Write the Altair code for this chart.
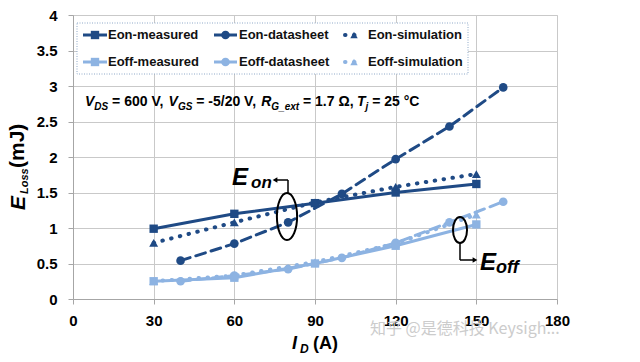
import altair as alt
import pandas as pd

# ---------------- data ----------------
x_meas = [30, 60, 90, 120, 150]
x_ds = [40, 60, 80, 100, 120, 140, 160]
eon_measured = [0.99, 1.20, 1.35, 1.50, 1.62]
eon_simulation = [0.79, 1.08, 1.36, 1.58, 1.76]
eon_datasheet = [0.54, 0.78, 1.08, 1.48, 1.97, 2.43, 2.98]
eoff_measured = [0.25, 0.30, 0.50, 0.75, 1.05]
eoff_simulation = [0.25, 0.33, 0.52, 0.78, 1.19]
eoff_datasheet = [0.25, 0.33, 0.42, 0.58, 0.79, 1.08, 1.37]

series_names = ["Eon-measured", "Eon-datasheet", "Eon-simulation",
                "Eoff-measured", "Eoff-datasheet", "Eoff-simulation"]
x_ticks = [0, 30, 60, 90, 120, 150, 180]
y_ticks = [0, 0.5, 1, 1.5, 2, 2.5, 3, 3.5, 4]

condition_parts = [("V", "main"), ("DS", "sub"), (" = 600 V, ", "plain"),
                   ("V", "main"), ("GS", "sub"), (" = -5/20 V, ", "plain"),
                   ("R", "main"), ("G_ext", "sub"), (" = 1.7 Ω, ", "plain"),
                   ("T", "main"), ("j", "sub"), (" = 25 °C", "plain")]
watermark = "知乎 @是德科技 Keysigh..."

# ---------------- styles ----------------
FONT = "Liberation Sans, Arial, Helvetica, sans-serif"
DARK = "#1F4A85"
LIGHT = "#8DB3E2"
DASHED = [10, 6]
DOTTED = [0.5, 8.5]

styles = {
    "Eon-measured":    dict(color=DARK,  dash=None,   shape="square",      size=70, sw=3),
    "Eon-datasheet":   dict(color=DARK,  dash=DASHED, shape="circle",      size=75, sw=3),
    "Eon-simulation":  dict(color=DARK,  dash=DOTTED, shape="triangle-up", size=80, sw=4),
    "Eoff-measured":   dict(color=LIGHT, dash=None,   shape="square",      size=70, sw=3),
    "Eoff-datasheet":  dict(color=LIGHT, dash=DASHED, shape="circle",      size=75, sw=3),
    "Eoff-simulation": dict(color=LIGHT, dash=DOTTED, shape="triangle-up", size=80, sw=4),
}
series_data = {
    "Eon-measured": (x_meas, eon_measured),
    "Eon-datasheet": (x_ds, eon_datasheet),
    "Eon-simulation": (x_meas, eon_simulation),
    "Eoff-measured": (x_meas, eoff_measured),
    "Eoff-datasheet": (x_ds, eoff_datasheet),
    "Eoff-simulation": (x_meas, eoff_simulation),
}

axis_common = dict(
    title=None, grid=True, gridColor="#c9c9c9", gridWidth=1,
    domainColor="#a6a6a6", tickColor="#a6a6a6", tickSize=5,
    labelFont=FONT, labelFontSize=15, labelFontWeight="bold", labelColor="#000000",
)
xscale = alt.Scale(domain=[0, 180], nice=False, zero=False)
yscale = alt.Scale(domain=[0, 4], nice=False, zero=False)
xaxis = alt.Axis(values=x_ticks, labelPadding=9, labelFlush=False, **axis_common)
yaxis = alt.Axis(values=y_ticks, format="~g", labelPadding=11, labelFlush=False, **axis_common)

layers = []
for name in series_names:
    xs, ys = series_data[name]
    st = styles[name]
    df = pd.DataFrame({"x": xs, "y": ys})
    enc = dict(x=alt.X("x:Q", scale=xscale, axis=xaxis),
               y=alt.Y("y:Q", scale=yscale, axis=yaxis))
    lk = dict(color=st["color"], strokeWidth=st["sw"], strokeCap="round")
    if st["dash"] is not None:
        lk["strokeDash"] = st["dash"]
    layers.append(alt.Chart(df).mark_line(**lk).encode(**enc))
    layers.append(alt.Chart(df).mark_point(filled=True, opacity=1, shape=st["shape"],
                                           size=st["size"], color=st["color"]).encode(**enc))

one = pd.DataFrame({"a": [0]})


def text(t, x, y, size, style="normal", weight="bold", color="#000000", angle=0,
         baseline="alphabetic", align="left", font=FONT):
    kw = dict(text=t, font=font, fontSize=size, fontWeight=weight, fontStyle=style,
              color=color, align=align, baseline=baseline)
    if angle:
        kw["angle"] = angle
    return alt.Chart(one).mark_text(**kw).encode(x=alt.value(x), y=alt.value(y))


def rule(x1, y1, x2, y2, color="#000000", width=1.5, dash=None, cap="butt"):
    kw = dict(color=color, strokeWidth=width, strokeCap=cap)
    if dash:
        kw["strokeDash"] = dash
    return alt.Chart(one).mark_rule(**kw).encode(
        x=alt.value(x1), y=alt.value(y1), x2=alt.value(x2), y2=alt.value(y2))


def symbol(x, y, shape, size, color, filled=True, sw=1.5):
    kw = dict(shape=shape, size=size, color=color, filled=filled, opacity=1)
    if not filled:
        kw["strokeWidth"] = sw
    return alt.Chart(one).mark_point(**kw).encode(x=alt.value(x), y=alt.value(y))


# ---------------- legend ----------------
layers.append(alt.Chart(one).mark_rect(fill="white", stroke="#8fa9c8", strokeWidth=1,
                                       strokeDash=[1, 1.5]).encode(
    x=alt.value(4), x2=alt.value(395), y=alt.value(8), y2=alt.value(59)))
col_sym = [(10, 34), (141, 164), (272, 290)]
col_txt = [35, 166, 295]
rows_y = [20, 47]
for i, name in enumerate(series_names):
    r, c = divmod(i, 3)
    st = styles[name]
    y = rows_y[r]
    x1, x2 = col_sym[c]
    if c < 2:
        layers.append(rule(x1, y, x2, y, color=st["color"], width=3))
        layers.append(symbol((x1 + x2) / 2, y, st["shape"], st["size"], st["color"]))
    else:
        layers.append(rule(x1, y, x2, y, color=st["color"], width=4, dash=[0.5, 8.5], cap="round"))
        layers.append(symbol((x1 + x2) / 2, y, st["shape"], 55, st["color"]))
    layers.append(text(name, col_txt[c], y, 13, baseline="middle", color="#111111"))

# ---------------- conditions line ----------------
W = {' ': 278, '=': 584, '-': 333, '/': 278, ',': 278, '.': 278, '°': 400, 'Ω': 768,
     '_': 556, 'V': 667, 'D': 722, 'S': 667, 'G': 778, 'R': 722, 'T': 611, 'C': 722,
     'e': 556, 'x': 556, 't': 333, 'j': 278}


def tw(s, size):
    return sum(W.get(ch, 556) for ch in s) / 1000.0 * size


cursor = 12.0
for seg, kind in condition_parts:
    size = 10 if kind == "sub" else 14
    y = 95 if kind == "sub" else 91
    style = "normal" if kind == "plain" else "italic"
    lead = len(seg) - len(seg.lstrip(" "))
    layers.append(text(seg.strip(), cursor + tw(" " * lead, size), y, size, style=style))
    cursor += tw(seg, size)

# ---------------- E_on / E_off call-outs ----------------
ell_on = "M0,-1 A0.43,1 0 1,1 0,1 A0.43,1 0 1,1 0,-1 Z"
ell_off = "M0,-1 A0.54,1 0 1,1 0,1 A0.54,1 0 1,1 0,-1 Z"
layers.append(symbol(214, 201.5, ell_on, 2209, "#000000", filled=False, sw=2))
layers.append(rule(215, 178, 215, 165))
layers.append(rule(215, 165, 204, 165))
layers.append(symbol(202, 165, "triangle-left", 30, "#000000"))
layers.append(text("E", 159, 170, 24, style="italic"))
layers.append(text("on", 178, 173, 17, style="italic"))

layers.append(symbol(387, 215, ell_off, 676, "#000000", filled=False, sw=2))
layers.append(rule(387, 228, 387, 245))
layers.append(rule(387, 245, 400, 245))
layers.append(symbol(402, 245, "triangle-right", 30, "#000000"))
layers.append(text("E", 407, 255, 24, style="italic"))
layers.append(text("off", 423, 258, 18, style="italic"))

# ---------------- axis titles ----------------
layers.append(text("I", 219, 334, 18, style="italic"))
layers.append(text("D", 227, 338, 12, style="italic"))
layers.append(text("(A)", 240, 334, 18))

layers.append(text("E", -48, 195, 21, style="italic", angle=270))
layers.append(text("Loss", -45, 179, 11, style="italic", angle=270))
layers.append(text("(mJ)", -49, 153, 21, angle=270))

# ---------------- watermark ----------------
layers.append(text(watermark, 297, 319, 16, weight="normal", color="#cccccc",
                   font="Noto Sans CJK SC, Noto Sans, sans-serif"))

chart = alt.layer(*layers).properties(
    width=484, height=284,
    padding={"left": 65, "top": 7, "right": 75, "bottom": 55},
    autosize=alt.AutoSizeParams(type="none"),
).configure_view(stroke=None).configure(background="white")

chart.save("out.html", embed_options={"renderer": "svg", "actions": False})
